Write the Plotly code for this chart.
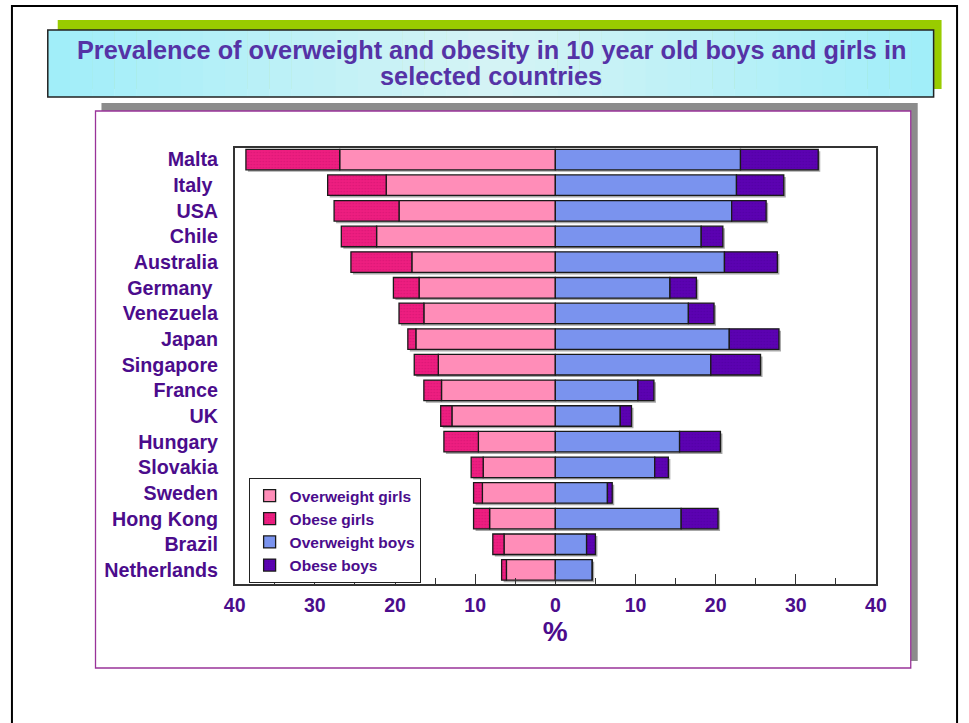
import plotly.graph_objects as go

countries = ["Malta", "Italy", "USA", "Chile", "Australia", "Germany", "Venezuela", "Japan",
             "Singapore", "France", "UK", "Hungary", "Slovakia", "Sweden", "Hong Kong",
             "Brazil", "Netherlands"]
country_labels = ["Malta", "Italy\u00a0", "USA", "Chile", "Australia", "Germany\u00a0", "Venezuela",
                  "Japan", "Singapore", "France", "UK", "Hungary", "Slovakia", "Sweden",
                  "Hong Kong", "Brazil", "Netherlands"]
overweight_girls = [26.9, 21.1, 19.5, 22.3, 17.9, 17.0, 16.4, 17.4, 14.6, 14.2, 12.9, 9.6, 9.0, 9.1, 8.2, 6.4, 6.1]
obese_girls = [11.7, 7.3, 8.1, 4.4, 7.6, 3.2, 3.1, 1.0, 3.0, 2.2, 1.4, 4.3, 1.5, 1.1, 2.0, 1.4, 0.6]
overweight_boys = [23.1, 22.6, 22.0, 18.2, 21.1, 14.3, 16.6, 21.7, 19.4, 10.3, 8.1, 15.5, 12.4, 6.5, 15.7, 3.9, 4.6]
obese_boys = [9.7, 5.9, 4.3, 2.7, 6.6, 3.3, 3.2, 6.2, 6.2, 2.0, 1.4, 5.1, 1.7, 0.6, 4.6, 1.1, 0.0]
tick_vals = [-40, -30, -20, -10, 0, 10, 20, 30, 40]
tick_text = ["40", "30", "20", "10", "0", "10", "20", "30", "40"]
title_line1 = "Prevalence of overweight and obesity in 10 year old boys and girls in"
title_line2 = "selected countries"

W, H = 969, 723
OFFX, KX = 8.0, 0.983   # observed horizontal placement of the page in the screenshot
PURPLE = "#4B0C8C"
FONT = "Liberation Sans, Arial, sans-serif"

def px(x):
    return (x - OFFX) / KX / W

def py(y):
    return 1 - y / H

girls_total = [a + b for a, b in zip(overweight_girls, obese_girls)]
boys_total = [a + b for a, b in zip(overweight_boys, obese_boys)]

fig = go.Figure()

BW = 0.8
SH_DX = 0.25
SH_DY = 0.08
shadow_col = "rgba(60,60,60,0.45)"
fig.add_trace(go.Bar(
    y=countries, x=[-v for v in girls_total], base=SH_DX, orientation="h", showlegend=False,
    marker=dict(color=shadow_col, line=dict(width=0)), width=BW, offset=-BW / 2 - SH_DY, hoverinfo="skip"))
fig.add_trace(go.Bar(
    y=countries, x=boys_total, base=SH_DX, orientation="h", showlegend=False,
    marker=dict(color=shadow_col, line=dict(width=0)), width=BW, offset=-BW / 2 - SH_DY, hoverinfo="skip"))

line_style = dict(color="#1a1a1a", width=1.3)
fig.add_trace(go.Bar(
    y=countries, x=[-v for v in overweight_girls], base=0, orientation="h", name="Overweight girls",
    marker=dict(color="#FF8DB8", line=line_style), width=BW, offset=-BW / 2))
fig.add_trace(go.Bar(
    y=countries, x=[-v for v in obese_girls], base=[-v for v in overweight_girls], orientation="h",
    name="Obese girls",
    marker=dict(color="#E8187A", line=line_style,
                pattern=dict(shape=".", size=3, solidity=0.25, fgcolor="#C8106A", bgcolor="#EE1E80")),
    width=BW, offset=-BW / 2))
fig.add_trace(go.Bar(
    y=countries, x=overweight_boys, base=0, orientation="h", name="Overweight boys",
    marker=dict(color="#7A93EE", line=line_style), width=BW, offset=-BW / 2))
fig.add_trace(go.Bar(
    y=countries, x=obese_boys, base=overweight_boys, orientation="h", name="Obese boys",
    marker=dict(color="#5A00AE", line=line_style,
                pattern=dict(shape=".", size=3, solidity=0.25, fgcolor="#4A0098", bgcolor="#5C02B2")),
    width=BW, offset=-BW / 2))

shapes = []
shapes.append(dict(type="rect", xref="paper", yref="paper", x0=0.001, x1=0.999, y0=py(740), y1=py(6),
                   line=dict(color="black", width=2), fillcolor="rgba(0,0,0,0)", layer="below"))
shapes.append(dict(type="rect", xref="paper", yref="paper", x0=px(55), x1=px(944), y0=py(89), y1=py(20),
                   line=dict(width=0), fillcolor="#99CC00", layer="below"))
n = 40
x0, x1 = 45, 936
for i in range(n):
    t = (i + 0.5) / n
    d = abs(t - 0.5) * 2
    c0 = (160, 238, 250)
    c1 = (214, 244, 245)
    r = int(c1[0] + (c0[0] - c1[0]) * d)
    g = int(c1[1] + (c0[1] - c1[1]) * d)
    b = int(c1[2] + (c0[2] - c1[2]) * d)
    xa = x0 + (x1 - x0) * i / n
    xb = x0 + (x1 - x0) * (i + 1) / n + 0.5
    shapes.append(dict(type="rect", xref="paper", yref="paper", x0=px(xa), x1=px(xb), y0=py(97), y1=py(30),
                       line=dict(width=0), fillcolor=f"rgb({r},{g},{b})", layer="below"))
shapes.append(dict(type="rect", xref="paper", yref="paper", x0=px(45), x1=px(936), y0=py(97), y1=py(30),
                   line=dict(color="#222", width=1.5), fillcolor="rgba(0,0,0,0)", layer="below"))
shapes.append(dict(type="rect", xref="paper", yref="paper", x0=px(99), x1=px(920), y0=py(661), y1=py(103),
                   line=dict(width=0), fillcolor="#8C8C8C", layer="below"))
shapes.append(dict(type="rect", xref="paper", yref="paper", x0=px(93), x1=px(913), y0=py(668), y1=py(111),
                   line=dict(color="#993399", width=1.3), fillcolor="white", layer="below"))

fig.update_layout(
    width=W, height=H, autosize=False,
    margin=dict(l=0, r=0, t=0, b=0),
    paper_bgcolor="white", plot_bgcolor="rgba(0,0,0,0)",
    barmode="overlay",
    font=dict(family=FONT, color=PURPLE),
    shapes=shapes,
    showlegend=True,
    legend=dict(x=px(247), y=py(478), xanchor="left", yanchor="top",
                bgcolor="white", bordercolor="#222", borderwidth=1,
                font=dict(family=FONT, size=15.5, color=PURPLE, weight="bold"),
                tracegroupgap=0, itemwidth=30, traceorder="normal"),
    annotations=[
        dict(text="<b>" + title_line1 + "</b>", xref="paper", yref="paper", x=px(491), y=py(50),
             xanchor="center", yanchor="middle", showarrow=False,
             font=dict(family=FONT, size=25.3, color="#5533A6")),
        dict(text="<b>" + title_line2 + "</b>", xref="paper", yref="paper", x=px(491), y=py(76),
             xanchor="center", yanchor="middle", showarrow=False,
             font=dict(family=FONT, size=25.3, color="#5533A6")),
    ],
    xaxis=dict(
        domain=[px(233), px(878)], range=[-40, 40],
        tickvals=tick_vals, ticktext=tick_text,
        ticks="inside", ticklen=10, tickcolor="#333", tickwidth=1,
        minor=dict(ticks="inside", dtick=5, ticklen=6, tickcolor="#333", tickwidth=1),
        showline=True, linecolor="#333", linewidth=1.5, mirror=True,
        showgrid=False, zeroline=False,
        ticklabelstandoff=3,
        tickfont=dict(family=FONT, size=19.5, color=PURPLE, weight="bold"),
        title=dict(text="<b>%</b>", font=dict(family=FONT, size=28, color=PURPLE), standoff=0),
    ),
    yaxis=dict(
        domain=[py(584), py(148)],
        categoryorder="array", categoryarray=countries[::-1],
        tickvals=countries, ticktext=country_labels,
        range=[-0.55, 16.45],
        showline=True, linecolor="#333", linewidth=1.5, mirror=True,
        showgrid=False, zeroline=False, ticks="",
        ticklabelstandoff=11,
        tickfont=dict(family=FONT, size=19.7, color=PURPLE, weight="bold"),
    ),
)

fig.write_html("out.html")
